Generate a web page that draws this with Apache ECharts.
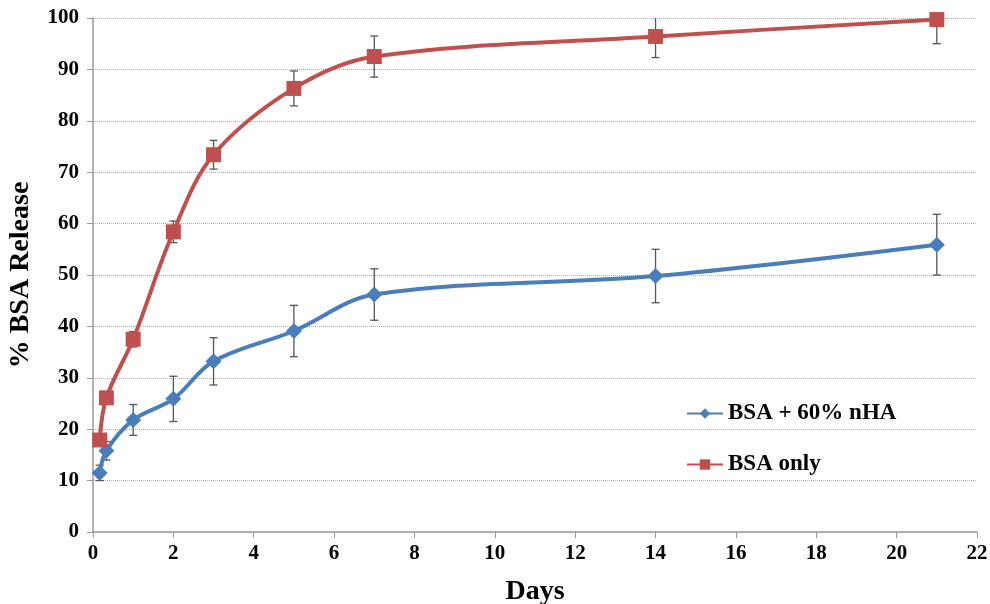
<!DOCTYPE html>
<html lang="en">
<head>
    <meta charset="UTF-8">
    <title>BSA Release</title>
    <script type="text/javascript" src="https://cdn.jsdelivr.net/npm/echarts@6/dist/echarts.min.js"></script>
    <style>
        html, body { margin: 0; padding: 0; background: #fff; }
        #chart { width: 990px; height: 604px; }
    </style>
</head>
<body>
<div id="chart"></div>
<script type="text/javascript">
    // release data
    var days = [0.167, 0.333, 1, 2, 3, 5, 7, 14, 21];
    var nhaRelease = [11.5, 15.8, 21.8, 25.9, 33.2, 39.1, 46.2, 49.8, 55.9];
    var nhaError = [1.5, 1.8, 3.0, 4.4, 4.6, 5.0, 5.0, 5.2, 5.9];
    var bsaRelease = [17.9, 26.1, 37.5, 58.4, 73.4, 86.3, 92.5, 96.4, 99.7];
    var bsaError = [0.8, 0.8, 1.5, 2.1, 2.8, 3.4, 4.0, 4.1, 4.7];
    var seriesNames = ['BSA + 60% nHA', 'BSA only'];

    var fontFamily = '"Liberation Serif", "DejaVu Serif", serif';

    function pairs(xs, ys) {
        return xs.map(function (x, i) { return [x, ys[i]]; });
    }
    function errorData(xs, ys, es) {
        return xs.map(function (x, i) { return [x, ys[i] - es[i], ys[i] + es[i]]; });
    }
    // vertical error bar with small caps
    function renderError(params, api) {
        var x = api.value(0);
        var lo = api.coord([x, api.value(1)]);
        var hi = api.coord([x, api.value(2)]);
        var cap = 4;
        var style = { stroke: '#555', lineWidth: 1.3 };
        return {
            type: 'group',
            children: [
                { type: 'line', shape: { x1: lo[0], y1: lo[1], x2: hi[0], y2: hi[1] }, style: style },
                { type: 'line', shape: { x1: lo[0] - cap, y1: lo[1], x2: lo[0] + cap, y2: lo[1] }, style: style },
                { type: 'line', shape: { x1: hi[0] - cap, y1: hi[1], x2: hi[0] + cap, y2: hi[1] }, style: style }
            ]
        };
    }

    var chart = echarts.init(document.getElementById('chart'));
    var option = {
        animation: false,
        grid: { left: 93, right: 13, top: 18, bottom: 72, containLabel: false, outerBoundsMode: 'none' },
        legend: {
            data: seriesNames,
            orient: 'vertical',
            left: 681,
            top: 397,
            itemGap: 28,
            itemWidth: 36,
            itemHeight: 13,
            textStyle: { fontFamily: fontFamily, fontWeight: 'bold', fontSize: 23, color: '#000' }
        },
        xAxis: {
            type: 'value',
            min: 0, max: 22, interval: 2,
            name: 'Days',
            nameLocation: 'middle',
            nameGap: 46,
            nameTextStyle: { fontFamily: fontFamily, fontWeight: 'bold', fontSize: 28, color: '#000' },
            axisLine: { lineStyle: { color: '#999', width: 1.5 } },
            axisTick: { show: true, length: 6, lineStyle: { color: '#999' } },
            axisLabel: { fontFamily: fontFamily, fontWeight: 'bold', fontSize: 21, color: '#000', margin: 11 },
            splitLine: { show: false }
        },
        yAxis: {
            type: 'value',
            min: 0, max: 100, interval: 10,
            name: '% BSA Release',
            nameLocation: 'middle',
            nameGap: 58,
            nameRotate: 90,
            nameTextStyle: { fontFamily: fontFamily, fontWeight: 'bold', fontSize: 28, color: '#000' },
            axisLine: { show: true, lineStyle: { color: '#999', width: 1.5 } },
            axisTick: { show: true, length: 6, lineStyle: { color: '#999' } },
            axisLabel: { fontFamily: fontFamily, fontWeight: 'bold', fontSize: 21, color: '#000', margin: 14 },
            splitLine: { show: true, lineStyle: { color: '#aaa', type: 'dotted', width: 1 } }
        },
        series: [
            {
                name: 'nha-error',
                type: 'custom',
                renderItem: renderError,
                data: errorData(days, nhaRelease, nhaError),
                encode: { x: 0, y: [1, 2] },
                clip: true,
                z: 1,
                silent: true
            },
            {
                name: 'bsa-error',
                type: 'custom',
                renderItem: renderError,
                data: errorData(days, bsaRelease, bsaError),
                encode: { x: 0, y: [1, 2] },
                clip: true,
                z: 1,
                silent: true
            },
            {
                name: seriesNames[0],
                type: 'line',
                data: pairs(days, nhaRelease),
                smooth: 0.35,
                symbol: 'diamond',
                symbolSize: 16,
                lineStyle: { color: '#4A7EBB', width: 4 },
                itemStyle: { color: '#4A7EBB' },
                z: 3
            },
            {
                name: seriesNames[1],
                type: 'line',
                data: pairs(days, bsaRelease),
                smooth: 0.35,
                symbol: 'rect',
                symbolSize: 15,
                lineStyle: { color: '#C0504D', width: 4 },
                itemStyle: { color: '#C0504D' },
                z: 3
            }
        ]
    };
    chart.setOption(option);
</script>
</body>
</html>
